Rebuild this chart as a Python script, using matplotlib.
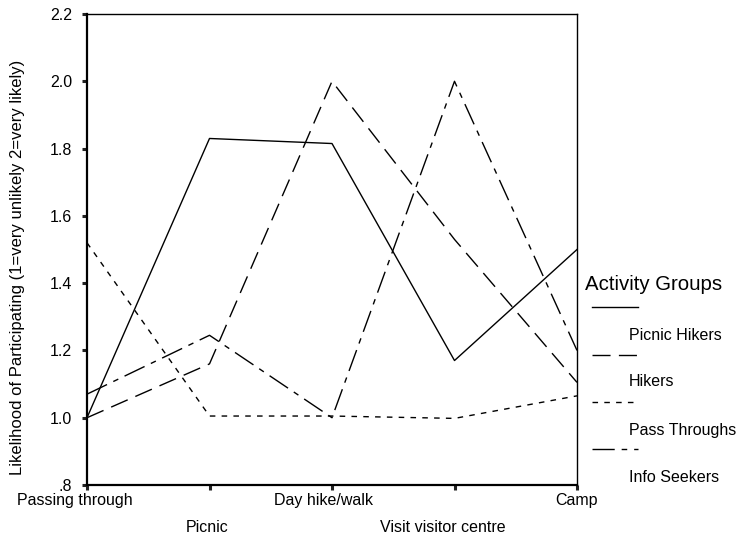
import matplotlib
matplotlib.use("Agg")
import matplotlib.pyplot as plt
from matplotlib.lines import Line2D
from matplotlib.transforms import blended_transform_factory, ScaledTranslation

plt.rcParams['font.family'] = ['Liberation Sans', 'DejaVu Sans']
plt.rcParams['lines.scale_dashes'] = False

categories = ["Passing through", "Picnic", "Day hike/walk", "Visit visitor centre", "Camp"]
picnic_hikers = [1.00, 1.83, 1.815, 1.17, 1.50]
hikers = [1.00, 1.16, 2.00, 1.53, 1.105]
pass_throughs = [1.52, 1.005, 1.005, 0.998, 1.065]
info_seekers = [1.07, 1.245, 1.00, 2.00, 1.20]
series_names = ["Picnic Hikers", "Hikers", "Pass Throughs", "Info Seekers"]
yticks = [0.8, 1.0, 1.2, 1.4, 1.6, 1.8, 2.0, 2.2]
ytick_labels = [".8", "1.0", "1.2", "1.4", "1.6", "1.8", "2.0", "2.2"]

styles = [
    dict(linestyle='-'),
    dict(linestyle=(0, (13, 6))),
    dict(linestyle=(0, (4, 4.5))),
    dict(linestyle=(0, (16, 5, 4, 5))),
]

FS = 11.5
fig = plt.figure(figsize=(7.39, 5.39), dpi=100)
ax = fig.add_axes([87/739, 1-485/539, (577-87)/739, (485-14)/539])

x = list(range(len(categories)))
for vals, st in zip([picnic_hikers, hikers, pass_throughs, info_seekers], styles):
    ax.plot(x, vals, color='black', linewidth=1.0, **st)

ax.set_xlim(0, len(categories)-1)
ax.set_ylim(0.8, 2.2)
ax.set_yticks(yticks)
ax.set_yticklabels(ytick_labels, fontsize=FS)
ax.set_xticks(x)
ax.set_xticklabels([])
ax.tick_params(axis='both', direction='out', length=3.6, width=2.2, color='#222222')
ax.tick_params(axis='y', pad=7)
for s in ['left', 'bottom']:
    ax.spines[s].set_linewidth(1.6)
for s in ['top', 'right']:
    ax.spines[s].set_linewidth(1.0)
ax.set_ylabel("Likelihood of Participating (1=very unlikely 2=very likely)", fontsize=12)
ax.yaxis.set_label_coords((25-87)/490, 0.461)

# staggered category labels (small horizontal nudges as in the reference)
nudges_px = [-12, -2, -8, -12, 0]
row_y_px = [500, 528]
trans = blended_transform_factory(ax.transData, fig.transFigure)
for i, (lab, dx) in enumerate(zip(categories, nudges_px)):
    ry = row_y_px[i % 2]
    t = trans + ScaledTranslation(dx/100, 0, fig.dpi_scale_trans)
    ax.text(x[i], 1-ry/539, lab, transform=t, fontsize=FS, ha='center', va='center', clip_on=False)

# legend drawn manually
fig.text(585/739, 1-285/539, "Activity Groups", fontsize=14.7, va='center', ha='left')
line_y = [307, 355, 402, 449]
label_y = [336, 382, 430, 478]
for name, st, ly, ty in zip(series_names, styles, line_y, label_y):
    fig.add_artist(Line2D([592/739, 638/739], [1-ly/539, 1-ly/539], color='black',
                          linewidth=1.0, transform=fig.transFigure, **st))
    fig.text(629/739, 1-ty/539, name, fontsize=FS, va='center', ha='left')

fig.savefig("out.png", dpi=100)
